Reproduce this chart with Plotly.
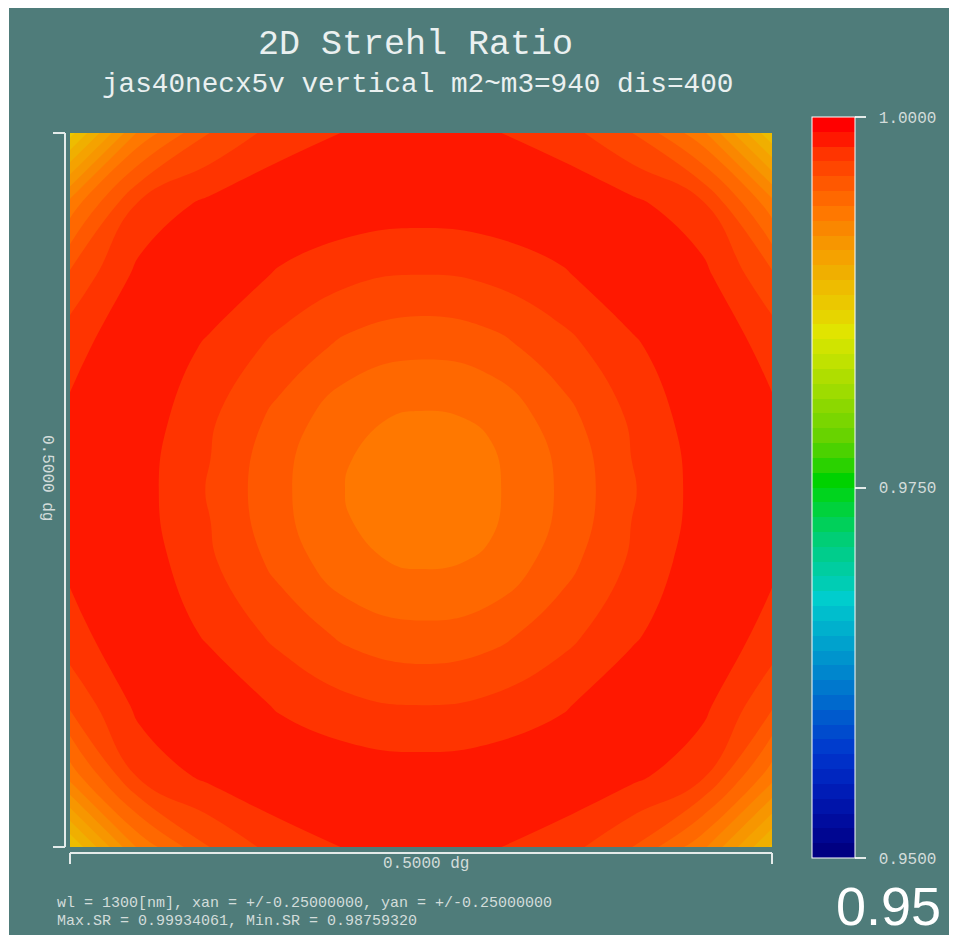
import plotly.graph_objects as go

# ---------------- data ----------------
x_deg = [-0.25, -0.20, -0.15, -0.10, -0.05, 0.00, 0.05, 0.10, 0.15, 0.20, 0.25]
y_deg = [0.25, 0.20, 0.15, 0.10, 0.05, 0.00, -0.05, -0.10, -0.15, -0.20, -0.25]  # top row first

sr_row_0 = [0.98760, 0.99332, 0.99603, 0.99748, 0.99809, 0.99824, 0.99809, 0.99748, 0.99603, 0.99332, 0.98820]
sr_row_1 = [0.99346, 0.99725, 0.99828, 0.99882, 0.99864, 0.99850, 0.99864, 0.99882, 0.99828, 0.99725, 0.99346]
sr_row_2 = [0.99622, 0.99832, 0.99870, 0.99786, 0.99722, 0.99698, 0.99722, 0.99786, 0.99870, 0.99832, 0.99622]
sr_row_3 = [0.99764, 0.99885, 0.99782, 0.99668, 0.99568, 0.99524, 0.99560, 0.99660, 0.99782, 0.99885, 0.99764]
sr_row_4 = [0.99821, 0.99859, 0.99715, 0.99564, 0.99417, 0.99385, 0.99409, 0.99556, 0.99715, 0.99859, 0.99821]
sr_row_5 = [0.99836, 0.99840, 0.99689, 0.99522, 0.99389, 0.99350, 0.99381, 0.99514, 0.99689, 0.99840, 0.99836]
sr_row_6 = [0.99821, 0.99859, 0.99715, 0.99564, 0.99417, 0.99385, 0.99409, 0.99556, 0.99715, 0.99859, 0.99821]
sr_row_7 = [0.99764, 0.99885, 0.99782, 0.99668, 0.99568, 0.99524, 0.99560, 0.99660, 0.99782, 0.99885, 0.99764]
sr_row_8 = [0.99622, 0.99832, 0.99870, 0.99786, 0.99722, 0.99698, 0.99722, 0.99786, 0.99870, 0.99832, 0.99622]
sr_row_9 = [0.99346, 0.99725, 0.99828, 0.99882, 0.99864, 0.99850, 0.99864, 0.99882, 0.99828, 0.99725, 0.99346]
sr_row_10 = [0.98800, 0.99332, 0.99603, 0.99748, 0.99809, 0.99824, 0.99809, 0.99748, 0.99603, 0.99332, 0.98880]
sr_rows = [sr_row_0, sr_row_1, sr_row_2, sr_row_3, sr_row_4, sr_row_5,
           sr_row_6, sr_row_7, sr_row_8, sr_row_9, sr_row_10]

cbar_vals = [0.95, 0.975, 1.0]
cbar_text = ["0.9500", "0.9750", "1.0000"]

title_text = "2D Strehl Ratio"
subtitle_text = "jas40necx5v vertical m2~m3=940 dis=400"
info_line1 = "wl = 1300[nm], xan = +/-0.25000000, yan = +/-0.25000000"
info_line2 = "Max.SR = 0.99934061, Min.SR = 0.98759320"
axis_label = "0.5000 dg"
corner_text = "0.95"

# ---------------- style ----------------
band_colors_top_down = [
    "rgb(255,0,0)", "rgb(255,24,0)", "rgb(255,52,0)", "rgb(255,70,0)", "rgb(255,88,0)",
    "rgb(255,104,0)", "rgb(255,120,0)", "rgb(250,135,0)", "rgb(247,150,0)", "rgb(245,162,0)",
    "rgb(240,175,0)", "rgb(238,188,0)", "rgb(235,200,0)", "rgb(230,213,0)", "rgb(225,228,0)",
    "rgb(208,228,0)", "rgb(192,226,0)", "rgb(175,222,0)", "rgb(158,220,0)", "rgb(140,216,0)",
    "rgb(122,214,0)", "rgb(104,211,0)", "rgb(75,210,0)", "rgb(42,210,0)", "rgb(0,210,0)",
    "rgb(0,212,30)", "rgb(0,210,60)", "rgb(0,208,90)", "rgb(0,206,118)", "rgb(0,205,140)",
    "rgb(0,205,160)", "rgb(0,205,180)", "rgb(0,205,205)", "rgb(0,190,205)", "rgb(0,176,205)",
    "rgb(0,162,205)", "rgb(0,148,205)", "rgb(0,134,205)", "rgb(0,120,205)", "rgb(0,105,205)",
    "rgb(0,90,205)", "rgb(0,75,205)", "rgb(0,60,205)", "rgb(0,48,200)", "rgb(0,38,192)",
    "rgb(0,28,182)", "rgb(0,20,170)", "rgb(0,12,158)", "rgb(0,6,145)", "rgb(0,0,130)",
]

TEAL = "#4f7c7a"
MONO = "Liberation Mono"
SANS = "Liberation Sans"
TXT = "#eaf0f0"
LBL = "#d3dcdb"
LINE = "#e4ebea"

W, H = 957, 943
PL, PR, PT, PB = 70, 772, 133, 847  # plot area in pixels


def fx(xp):
    return (xp - PL) / (PR - PL)


def fy(yp):
    return (PB - yp) / (PB - PT)


bottom_up = band_colors_top_down[::-1]
n = len(bottom_up)
colorscale = []
for k, c in enumerate(bottom_up):
    colorscale.append([k / n, c])
    colorscale.append([(k + 1) / n, c])

fig = go.Figure()
fig.add_trace(go.Contour(
    x=x_deg,
    y=y_deg[::-1],
    z=sr_rows[::-1],
    zmin=0.95, zmax=1.0,
    autocontour=False,
    contours=dict(start=0.95, end=1.0, size=0.001, coloring="fill", showlines=False),
    line=dict(width=0, smoothing=1.3),
    colorscale=colorscale,
    hoverinfo="skip",
    colorbar=dict(
        x=fx(812), xanchor="left",
        y=fy(858), yanchor="bottom",
        len=741, lenmode="pixels",
        thickness=43, thicknessmode="pixels",
        outlinecolor="white", outlinewidth=1,
        xpad=0, ypad=0, borderwidth=0,
        bgcolor="rgba(0,0,0,0)",
        tickmode="array", tickvals=cbar_vals, ticktext=[" " + t for t in cbar_text],
        ticks="outside", ticklen=11, tickwidth=2, tickcolor=LINE,
        tickfont=dict(family=MONO, size=16, color=LBL),
    ),
))

shapes = [
    dict(type="rect", xref="paper", yref="paper", layer="below",
         x0=fx(9), x1=fx(949), y0=fy(935), y1=fy(8),
         fillcolor=TEAL, line=dict(width=0)),
    # left bracket
    dict(type="line", xref="paper", yref="paper", x0=fx(65), x1=fx(65), y0=fy(PT), y1=fy(PB),
         line=dict(color=LINE, width=2)),
    dict(type="line", xref="paper", yref="paper", x0=fx(53), x1=fx(65), y0=fy(PT), y1=fy(PT),
         line=dict(color=LINE, width=2)),
    dict(type="line", xref="paper", yref="paper", x0=fx(53), x1=fx(65), y0=fy(PB), y1=fy(PB),
         line=dict(color=LINE, width=2)),
    # bottom bracket
    dict(type="line", xref="paper", yref="paper", x0=fx(PL), x1=fx(PR), y0=fy(853), y1=fy(853),
         line=dict(color=LINE, width=2)),
    dict(type="line", xref="paper", yref="paper", x0=fx(PL), x1=fx(PL), y0=fy(853), y1=fy(864),
         line=dict(color=LINE, width=2)),
    dict(type="line", xref="paper", yref="paper", x0=fx(PR), x1=fx(PR), y0=fy(853), y1=fy(864),
         line=dict(color=LINE, width=2)),
]

annotations = [
    dict(text=title_text, x=fx(415), y=fy(45), font=dict(family=MONO, size=35, color=TXT)),
    dict(text=subtitle_text, x=fx(417), y=fy(84), font=dict(family=MONO, size=27.7, color=TXT)),
    dict(text=axis_label, x=fx(426), y=fy(864), font=dict(family=MONO, size=16, color=LBL)),
    dict(text=axis_label, x=fx(47), y=fy(478), textangle=90,
         font=dict(family=MONO, size=16, color=LBL)),
    dict(text=info_line1, x=fx(55), y=fy(903), xanchor="left",
         font=dict(family=MONO, size=15, color=LBL)),
    dict(text=info_line2, x=fx(55), y=fy(921), xanchor="left",
         font=dict(family=MONO, size=15, color=LBL)),
    dict(text=corner_text, x=fx(943), y=fy(906), xanchor="right",
         font=dict(family=SANS, size=54, color="white")),
]
for a in annotations:
    a.setdefault("xanchor", "center")
    a.update(xref="paper", yref="paper", yanchor="middle", showarrow=False)

fig.update_layout(
    width=W, height=H,
    margin=dict(l=PL, r=W - PR, t=PT, b=H - PB, autoexpand=False),
    paper_bgcolor="white",
    plot_bgcolor=TEAL,
    xaxis=dict(visible=False, range=[-0.25, 0.25], fixedrange=True),
    yaxis=dict(visible=False, range=[-0.25, 0.25], fixedrange=True),
    shapes=shapes,
    annotations=annotations,
    showlegend=False,
)

fig.write_html("out.html")
